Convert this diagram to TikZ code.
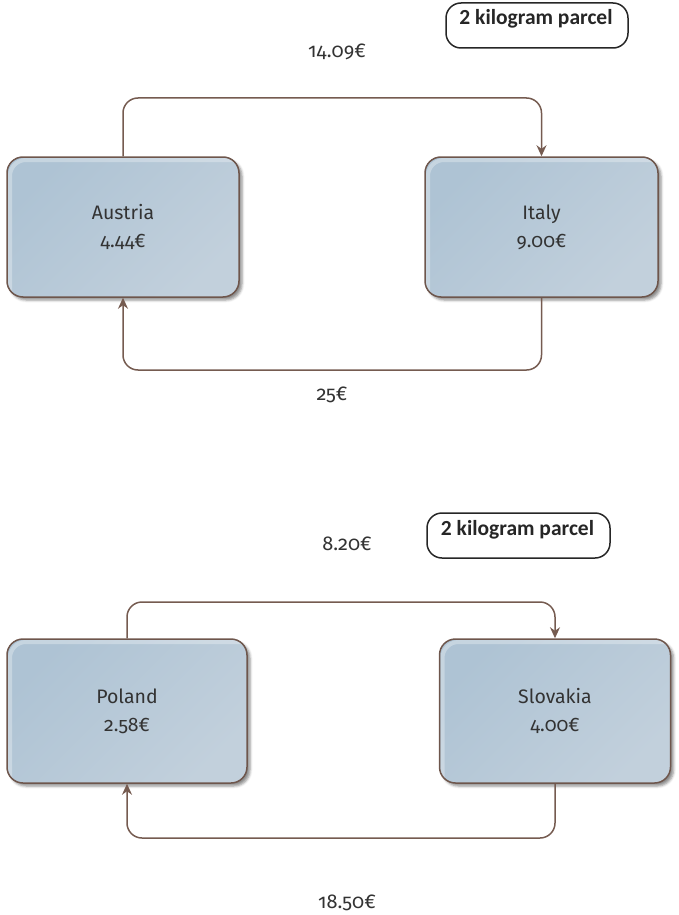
\documentclass[tikz,border=0pt]{standalone}
\usepackage{fontspec}
\setmainfont{Carlito}
\newfontfamily\pricefont{Fira Sans}[Numbers=OldStyle]
\usetikzlibrary{arrows.meta,shadows.blur}
\definecolor{brownb}{RGB}{110,86,76}
\definecolor{brownc}{RGB}{117,91,80}
\definecolor{boxD}{RGB}{174,195,212}
\definecolor{boxL}{RGB}{194,208,220}
\definecolor{textc}{RGB}{51,51,51}
\tikzset{
  cbox/.style={rectangle, rounded corners=16pt, draw=brownb, line width=1.5pt,
    top color=boxD, bottom color=boxL, shading angle=45,
    text=textc, align=center, font=\pricefont\fontsize{19.5}{28}\selectfont,
    path picture={\draw[white, opacity=0.3, line width=4pt]
      ([xshift=3pt]path picture bounding box.south west) --
      ([xshift=3pt,yshift=-3pt]path picture bounding box.north west) --
      ([yshift=-3pt]path picture bounding box.north east);},
    blur shadow={shadow xshift=3pt, shadow yshift=-3pt, shadow blur radius=2.5pt, shadow opacity=45}},
  conn/.style={draw=brownc, line width=1.5pt, rounded corners=15pt},
  tip/.style={-{Stealth[length=11pt,width=10pt]}},
  parcel/.style={rectangle, rounded corners=15pt, draw=black!85, line width=1.5pt, fill=white,
    minimum width=182pt, minimum height=45pt},
  parceltext/.style={font=\bfseries\fontsize{21.5}{24}\selectfont, text=black!85, inner sep=0pt, anchor=base},
  price/.style={font=\pricefont\fontsize{20}{23}\selectfont, text=textc, inner sep=0pt}
}
\begin{document}
\begin{tikzpicture}[x=1pt,y=-1pt]
\useasboundingbox (0,0) rectangle (679,915);
% ---- first diagram
\node[parcel] (p1) at (537,25.5) {};
\node[parceltext] (p1t) at (536,25) {2 kilogram parcel};
\node[price] (l1) at (337,52) {14.09€};
\node[cbox, minimum width=232pt, minimum height=140pt] (A) at (123,227) {Austria\\4.44€};
\node[cbox, minimum width=233pt, minimum height=140pt] (I) at (541.5,227) {Italy\\9.00€};
\coordinate (t1) at (330,98);
\coordinate (b1) at (330,370);
\draw[conn,tip] (A.north) |- (t1) -| (I.north);
\draw[conn,tip] (I.south) |- (b1) -| (A.south);
\node[price] (l2) at (332,395) {25€};
% ---- second diagram
\node[parcel, minimum width=183pt] (p2) at (518.5,535.5) {};
\node[parceltext] (p2t) at (517.5,535) {2 kilogram parcel};
\node[price] (l3) at (347,544) {8.20€};
\node[cbox, minimum width=240pt, minimum height=144pt] (P) at (127,711) {Poland\\2.58€};
\node[cbox, minimum width=231pt, minimum height=144pt] (S) at (555,711) {Slovakia\\4.00€};
\coordinate (t2) at (340,602);
\coordinate (b2) at (340,838);
\draw[conn,tip] (P.north) |- (t2) -| (S.north);
\draw[conn,tip] (S.south) |- (b2) -| (P.south);
\node[price] (l4) at (347,903) {18.50€};
\end{tikzpicture}
\end{document}
